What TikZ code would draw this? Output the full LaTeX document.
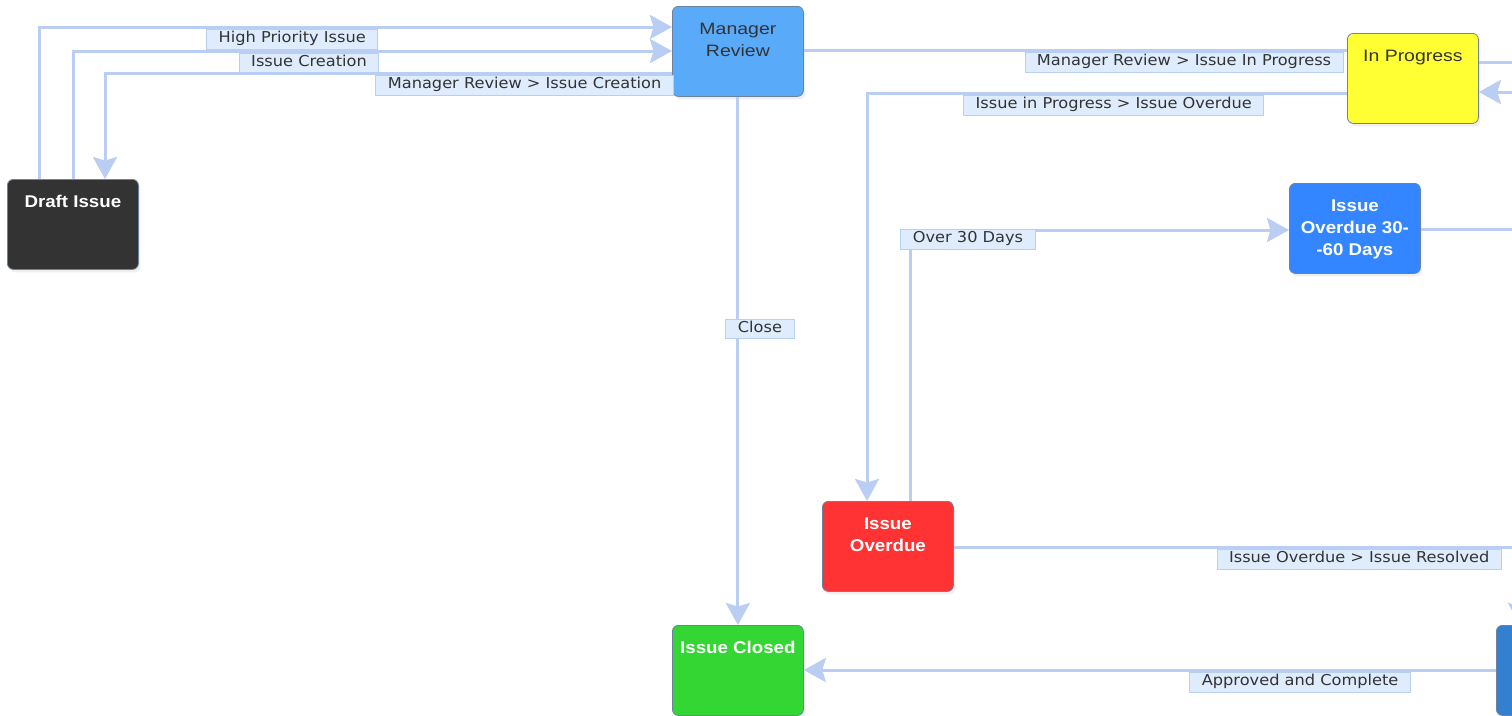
\documentclass[tikz,border=0pt]{standalone}
\usepackage{fontspec}
\usetikzlibrary{arrows.meta,shadows,calc}
\newfontfamily\lblfont[FakeStretch=1.08]{DejaVu Sans}
\newfontfamily\boxfont[FakeStretch=1.1]{Liberation Sans}
\newfontfamily\regfont[FakeStretch=1.18]{Liberation Sans}
\definecolor{edgecol}{RGB}{185,206,242}
\definecolor{lblfill}{RGB}{222,236,253}
\definecolor{lblborder}{RGB}{184,208,240}
\definecolor{txtgray}{RGB}{51,51,51}
\definecolor{nodeborder}{RGB}{108,130,160}
\definecolor{mgrblue}{RGB}{90,170,250}
\definecolor{progyellow}{RGB}{255,255,51}
\definecolor{odblue}{RGB}{51,134,255}
\definecolor{odred}{RGB}{255,51,51}
\definecolor{closedgreen}{RGB}{51,214,51}
\definecolor{draftdark}{RGB}{51,51,51}
\definecolor{resblue}{RGB}{51,128,208}
\newcommand{\stxt}[1]{\parbox[c][90pt][t]{131pt}{\centering\rule{0pt}{28pt}#1\par}}
\tikzset{
  stnode/.style={draw=nodeborder, line width=0.8pt, rounded corners=6pt, inner sep=0pt,
    anchor=north west, minimum width=131pt, minimum height=90pt,
    drop shadow={opacity=0.12, shadow xshift=2pt, shadow yshift=-3pt}},
  boldtxt/.style={font=\boxfont\bfseries\fontsize{17}{22}\selectfont, text=white},
  regtxt/.style={font=\regfont\fontsize{16.5}{22}\selectfont, text=txtgray},
  edge/.style={draw=edgecol, line width=3pt, -{Stealth[length=22pt,width=24pt,inset=3.5pt]}},
  plainedge/.style={draw=edgecol, line width=3pt},
  lbl/.style={draw=lblborder, fill=lblfill, line width=0.8pt, text=txtgray,
    font=\lblfont\fontsize{15}{18}\selectfont, inner xsep=12pt, inner ysep=2.5pt,
    text height=11pt, text depth=3.5pt, sharp corners},
  below lbl/.style={lbl, anchor=north, yshift=-2pt},
}
\begin{document}
\begin{tikzpicture}[x=1pt,y=1pt]
\useasboundingbox (0,0) rectangle (1512,-715);
\clip (0,0) rectangle (1512,-715);
\fill[white] (0,0) rectangle (1512,-715);

% nodes
\node[stnode, fill=draftdark, boldtxt] (draft) at (7,-179) {\stxt{Draft Issue}};
\node[stnode, fill=mgrblue, regtxt] (mgr) at (672,-6) {\stxt{Manager\\Review}};
\node[stnode, fill=progyellow, regtxt] (inprog) at (1347,-33) {\stxt{In Progress}};
\node[stnode, fill=odblue, boldtxt] (od3060) at (1289,-183) {\stxt{Issue\\Overdue 30-\\-60 Days}};
\node[stnode, fill=odred, boldtxt] (overdue) at (822,-501) {\stxt{Issue\\Overdue}};
\node[stnode, fill=closedgreen, boldtxt] (closed) at (672,-625) {\stxt{Issue Closed}};
\node[stnode, fill=resblue, boldtxt] (res) at (1496,-625) {\stxt{}};

\coordinate (offA) at (1545,-229);
\coordinate (offB) at (1545,-62);
\coordinate (offC) at (1545,-92);

% edges
\draw[edge] ([xshift=32pt]draft.north west) |- node[below lbl, pos=0.70] {High Priority Issue} ([yshift=-21pt]mgr.north west);
\draw[edge] ([xshift=66pt]draft.north west) |- node[below lbl, pos=0.697] {Issue Creation} ([yshift=-45pt]mgr.north west);
\draw[edge] ([yshift=-67pt]mgr.north west) -| node[below lbl, pos=0.13] {Manager Review > Issue Creation} ([xshift=98pt]draft.north west);
\draw[plainedge] ([yshift=-44pt]mgr.north east) -- node[below lbl, pos=0.70] {Manager Review > Issue In Progress} ([yshift=-17pt]inprog.north west);
\draw[edge] ([yshift=-60pt]inprog.north west) -| node[below lbl, pos=0.243] {Issue in Progress > Issue Overdue} ([xshift=45pt]overdue.north west);
\draw[edge] (mgr.south) -- node[lbl, pos=0.439, xshift=22pt] {Close} (closed.north);
\draw[edge] ([xshift=88pt]overdue.north west) |- node[lbl, pos=0.5765, anchor=north, yshift=1pt] {Over 30 Days} ([yshift=-47pt]od3060.north west);
\draw[plainedge] ([yshift=-46pt]od3060.north east) -- (offA);
\draw[plainedge] ([yshift=-29pt]inprog.north east) -- (offB);
\draw[edge] (offC) -- ([yshift=-59pt]inprog.north east);
\draw[edge] ([yshift=-46pt]overdue.north east) -| node[below lbl, pos=0.358] {Issue Overdue > Issue Resolved} ([xshift=24pt]res.north west);
\draw[edge] ([yshift=-45pt]res.north west) -- node[below lbl, pos=0.283] {Approved and Complete} ([yshift=-45pt]closed.north east);
\end{tikzpicture}
\end{document}
